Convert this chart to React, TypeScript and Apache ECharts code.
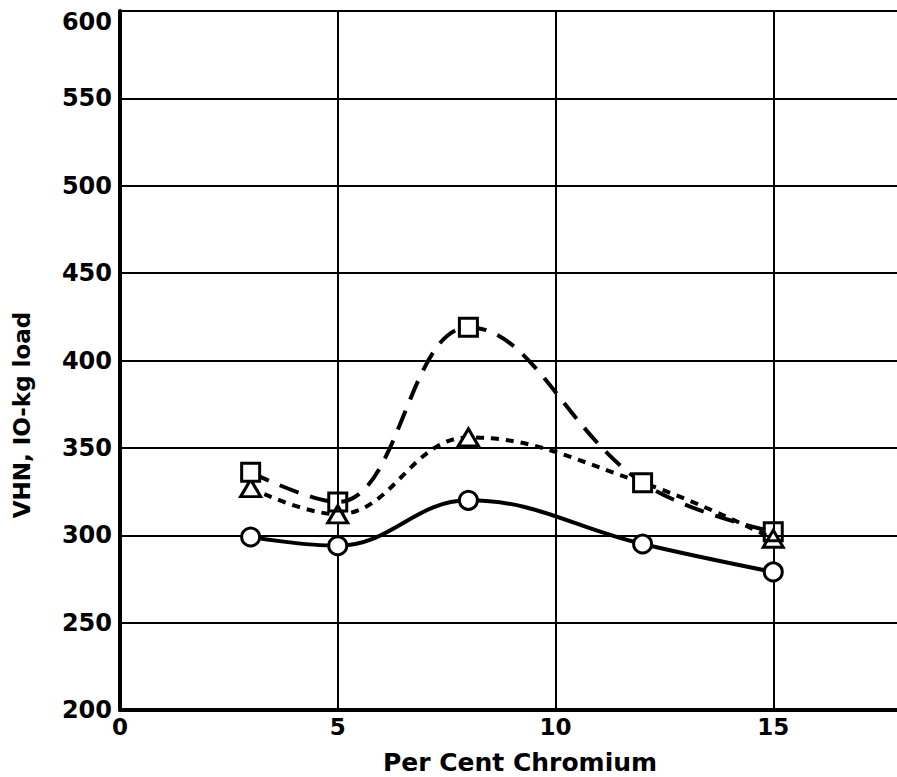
import React, { useEffect, useRef } from "react";
import * as echarts from "echarts";

const chromium = [3, 5, 8, 12, 15];
const squareVHN = [336, 319, 419, 330, 302];
const triangleVHN = [327, 312, 356, 330, 298];
const circleVHN = [299, 294, 320, 295, 279];
const yTicks = [200, 250, 300, 350, 400, 450, 500, 550, 600];
const xTitle = "Per Cent Chromium";
const yTitle = "VHN, IO-kg load";

const FONT = "DejaVu Sans";

export default function App() {
  const ref = useRef<HTMLDivElement>(null);
  useEffect(() => {
    if (!ref.current) return;
    const chart = echarts.init(ref.current, null, { renderer: "svg" });
    const mk = (xs: number[], ys: number[]) => xs.map((x, i) => [x, ys[i]]);
    const markerStyle = { color: "#fff", borderColor: "#000", borderWidth: 3 };
    const yMax = yTicks[yTicks.length - 1];
    chart.setOption({
      animation: false,
      backgroundColor: "#fff",
      grid: { left: 120, top: 11, right: 0, bottom: 67 },
      xAxis: {
        type: "value",
        min: 0,
        max: 20,
        interval: 5,
        axisLine: { show: true, onZero: false, lineStyle: { color: "#000", width: 4 } },
        axisTick: { show: false },
        splitLine: { show: true, lineStyle: { color: "#000", width: 2 } },
        axisLabel: {
          color: "#000",
          fontFamily: FONT,
          fontWeight: "bold",
          fontSize: 23,
          margin: 5,
          formatter: (v: number) => (v % 5 === 0 && v < 20 ? String(v) : ""),
        },
      },
      yAxis: {
        type: "value",
        min: yTicks[0],
        max: yMax,
        interval: 50,
        axisLine: { show: true, lineStyle: { color: "#000", width: 4 } },
        axisTick: { show: false },
        splitLine: { show: true, lineStyle: { color: "#000", width: 2 } },
        axisLabel: {
          color: "#000",
          fontFamily: FONT,
          fontWeight: "bold",
          fontSize: 24,
          margin: 8,
          formatter: (v: number) => (v === yMax ? `{top|${v}}` : String(v)),
          rich: {
            top: {
              fontFamily: FONT,
              fontWeight: "bold",
              fontSize: 24,
              color: "#000",
              padding: [22, 0, 0, 0],
            },
          },
        },
      },
      graphic: [
        {
          type: "text",
          x: 520,
          y: 762,
          style: {
            text: xTitle,
            fill: "#000",
            font: `bold 25px "${FONT}"`,
            align: "center",
            verticalAlign: "middle",
          },
        },
        {
          type: "text",
          x: 22,
          y: 415,
          rotation: Math.PI / 2,
          style: {
            text: yTitle,
            fill: "#000",
            font: `bold 23px "${FONT}"`,
            align: "center",
            verticalAlign: "middle",
          },
        },
      ],
      series: [
        {
          type: "line",
          name: "circle",
          data: mk(chromium, circleVHN),
          smooth: 0.4,
          symbol: "circle",
          symbolSize: 18,
          lineStyle: { color: "#000", width: 4, type: "solid" },
          itemStyle: markerStyle,
          z: 3,
        },
        {
          type: "line",
          name: "triangle",
          data: mk(chromium, triangleVHN).map((d, i) =>
            i === 3 ? { value: d, symbol: "none" } : { value: d }
          ),
          smooth: 0.4,
          symbol: "triangle",
          symbolSize: [20, 17],
          lineStyle: { color: "#000", width: 4, type: [8, 7] },
          itemStyle: markerStyle,
          z: 4,
        },
        {
          type: "line",
          name: "square",
          data: mk(chromium, squareVHN).map((d, i) =>
            i === 1 || i === 4
              ? { value: d, itemStyle: { color: "transparent" } }
              : { value: d }
          ),
          smooth: 0.4,
          symbol: "rect",
          symbolSize: 18,
          lineStyle: { color: "#000", width: 4, type: [20, 12] },
          itemStyle: markerStyle,
          z: 5,
        },
      ],
    });
    return () => chart.dispose();
  }, []);
  return (
    <div
      style={{
        position: "fixed",
        left: 0,
        top: 0,
        width: 897,
        height: 777,
        overflow: "hidden",
        background: "#fff",
      }}
    >
      <div ref={ref} style={{ width: 994, height: 777 }} />
    </div>
  );
}
